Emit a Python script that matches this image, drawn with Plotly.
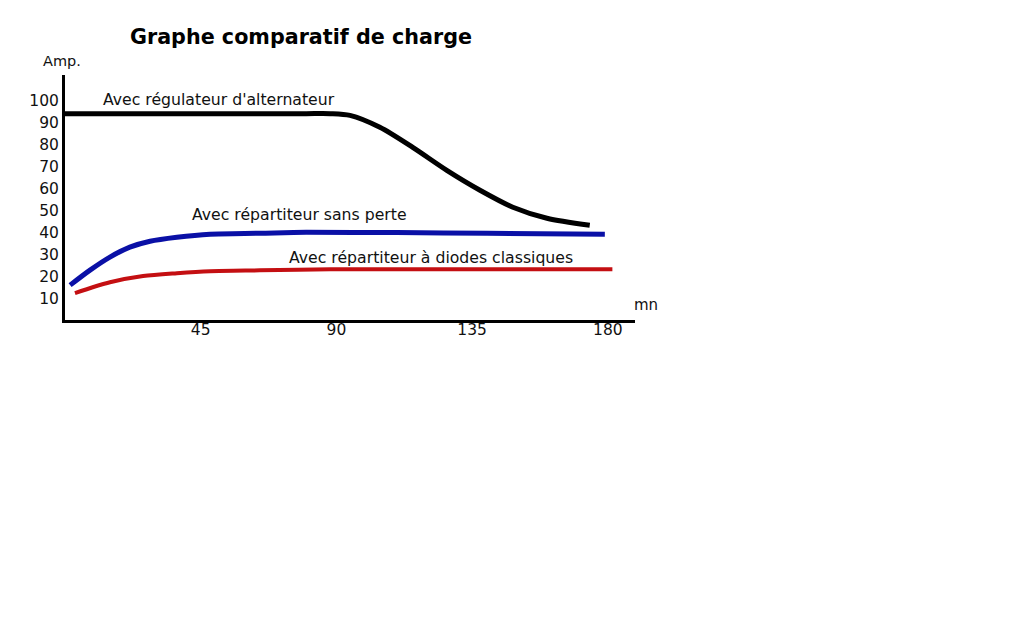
import plotly.graph_objects as go

# Data (minutes, amperes)
alt_x = [0, 30, 60, 80, 88, 94.5, 104.4, 115.3, 126.6, 137.6, 148.5, 159.8, 174]
alt_y = [94, 94, 94, 94, 94, 93.2, 87.8, 78.7, 68.3, 59.3, 51.6, 46.6, 43.4]

rep_x = [1.7, 8.3, 14.9, 21.5, 28.2, 37.1, 48.1, 64.6, 80, 110, 140, 179]
rep_y = [16.3, 23.1, 29.0, 33.5, 36.2, 38.0, 39.4, 39.8, 40.2, 40.1, 39.8, 39.4]

dio_x = [3.3, 14.9, 25.9, 37.1, 48.1, 64.6, 88, 120, 150, 181.5]
dio_y = [12.7, 17.6, 20.4, 21.7, 22.6, 23.0, 23.5, 23.5, 23.5, 23.5]

x_ticks = [45, 90, 135, 180]
y_ticks = [10, 20, 30, 40, 50, 60, 70, 80, 90, 100]

labels = ["Avec régulateur d'alternateur", "Avec répartiteur sans perte",
          "Avec répartiteur à diodes classiques"]

FONT = "DejaVu Sans"
OFF = 8  # page body margin

L, R, T, B = 65 - OFF, 635 - OFF, 75 - OFF, 320 - OFF
PW, PH = R - L, B - T

fig = go.Figure()
fig.add_trace(go.Scatter(x=alt_x, y=alt_y, mode="lines",
                         line=dict(color="#000000", width=5, shape="spline", smoothing=0.8),
                         name=labels[0]))
fig.add_trace(go.Scatter(x=rep_x, y=rep_y, mode="lines",
                         line=dict(color="#0a10a6", width=5, shape="spline", smoothing=0.8),
                         name=labels[1]))
fig.add_trace(go.Scatter(x=dio_x, y=dio_y, mode="lines",
                         line=dict(color="#c40f12", width=4, shape="spline", smoothing=0.8),
                         name=labels[2]))

ann = [
    dict(x=11.9, y=100.5, text=labels[0], xanchor="left", yanchor="middle"),
    dict(x=41.4, y=48.4, text=labels[1], xanchor="left", yanchor="middle"),
    dict(x=73.6, y=29.0, text=labels[2], xanchor="left", yanchor="middle"),
]
annotations = [dict(a, xref="x", yref="y", showarrow=False,
                    font=dict(family=FONT, size=15.7, color="#111")) for a in ann]
annotations.append(dict(xref="paper", yref="paper", x=(41 - 65) / 570, y=(320 - 61) / 245,
                        text="Amp.", showarrow=False, xanchor="left", yanchor="middle",
                        font=dict(family=FONT, size=14.5, color="#111")))
annotations.append(dict(xref="paper", yref="paper", x=(632 - 65) / 570, y=(320 - 305) / 245,
                        text="mn", showarrow=False, xanchor="left", yanchor="middle",
                        font=dict(family=FONT, size=15, color="#111")))

fig.update_layout(
    width=1024, height=640,
    paper_bgcolor="white", plot_bgcolor="white",
    margin=dict(l=L, r=1024 - R, t=T, b=640 - B),
    showlegend=False,
    title=dict(text="<b>Graphe comparatif de charge</b>", x=(301 - OFF) / 1024, xref="container",
               xanchor="center", y=1 - (37 - OFF) / 640, yref="container", yanchor="middle",
               font=dict(family=FONT, size=20.7, color="#000")),
    annotations=annotations,
    xaxis=dict(range=[0, 189], tickvals=x_ticks, ticktext=[str(v) for v in x_ticks],
               showgrid=False, zeroline=False, showline=True, linecolor="#000",
               linewidth=3, ticks="", ticklabelstandoff=-7,
               tickfont=dict(family=FONT, size=15.5, color="#111")),
    yaxis=dict(range=[0.5, 111.5], tickvals=y_ticks, ticktext=[str(v) for v in y_ticks],
               showgrid=False, zeroline=False, showline=True, linecolor="#000",
               linewidth=3, ticks="", ticklabelstandoff=0,
               tickfont=dict(family=FONT, size=15.5, color="#111")),
)

fig.write_html("out.html")
